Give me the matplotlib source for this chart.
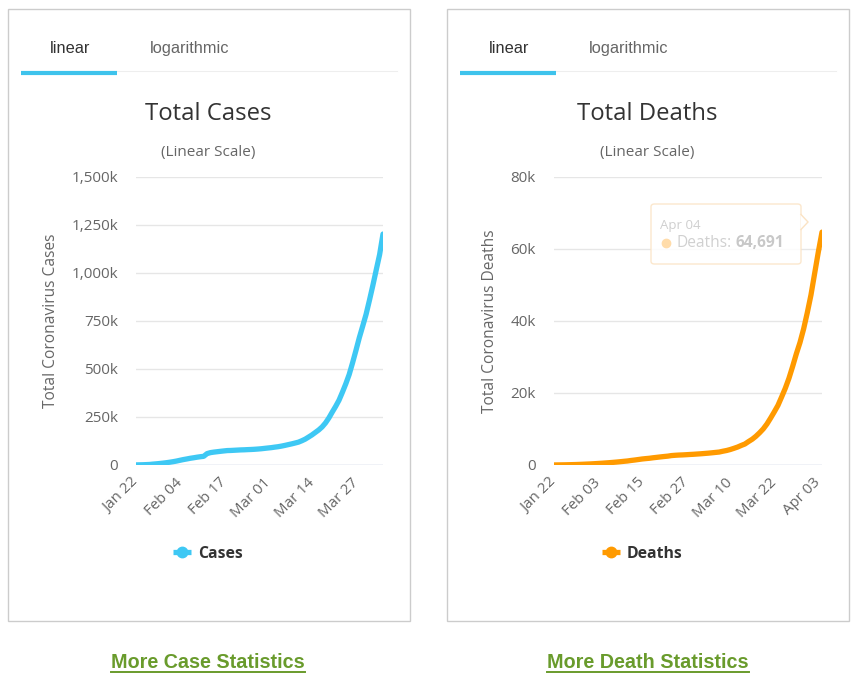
import numpy as np
import matplotlib
matplotlib.use('Agg')
import matplotlib.pyplot as plt
import matplotlib.dates as mdates
from matplotlib.patches import Rectangle, FancyBboxPatch, Polygon
from matplotlib.lines import Line2D

# daily totals, Jan 22 .. Apr 04
dates = np.arange(np.datetime64('2020-01-22'), np.datetime64('2020-04-05'))

total_cases = [
    580, 845, 1317, 2015, 2800, 4581, 6058, 7813, 9823, 11950,
    14553, 17391, 20630, 24545, 28266, 31439, 34876, 37552, 40553, 43099,
    45134, 59287, 64438, 67100, 69197, 71329, 73332, 75184, 75700, 76677,
    77673, 78651, 79205, 80087, 80828, 81820, 83112, 84615, 86604,
    88585, 90443, 93016, 95314, 98425, 102050, 106099, 109991, 114381, 118948,
    126214, 134576, 145483, 156653, 169593, 182490, 198238, 218822, 244933, 275597,
    305036, 337459, 378830, 422574, 471035, 531865, 596366, 663127, 723390, 784794,
    858361, 935197, 1016128, 1095917, 1203000,
]
total_deaths = [
    17, 25, 41, 56, 80, 106, 132, 170, 213, 259,
    304, 362, 426, 492, 565, 638, 724, 813, 910, 1018,
    1115, 1261, 1383, 1526, 1669, 1775, 1873, 2009, 2126, 2247,
    2360, 2460, 2618, 2699, 2763, 2800, 2858, 2923, 2977,
    3050, 3117, 3202, 3285, 3387, 3494, 3599, 3827, 4025, 4296,
    4628, 4981, 5428, 5833, 6520, 7162, 7979, 8951, 10030, 11388,
    13031, 14755, 16558, 18897, 21308, 24090, 27370, 30850, 34013, 37820,
    42338, 47261, 53234, 59172, 64691,
]
cases_yticks = [0, 250000, 500000, 750000, 1000000, 1250000, 1500000]
cases_ylabels = ['0', '250k', '500k', '750k', '1,000k', '1,250k', '1,500k']
deaths_yticks = [0, 20000, 40000, 60000, 80000]
deaths_ylabels = ['0', '20k', '40k', '60k', '80k']

W, H = 860, 698
FONT = ['Open Sans', 'DejaVu Sans']
fig = plt.figure(figsize=(W / 100, H / 100), dpi=100)


def fx(x):
    return x / W


def fy(y):
    return 1 - y / H


def panel(x0, series, color, name, title, ylabel, yticks, ylabels, step):
    # outer box
    fig.patches.append(Rectangle((fx(x0), fy(621)), fx(402), 612 / H, transform=fig.transFigure,
                                 fill=False, edgecolor='#cccccc', lw=1))
    # tabs
    fig.text(fx(x0 + 62), fy(48.5), 'linear', family=['Liberation Sans'], fontsize=11.8,
             color='#333333', ha='center', va='center')
    fig.text(fx(x0 + 182), fy(48.5), 'logarithmic', family=['Liberation Sans'], fontsize=11.8,
             color='#666666', ha='center', va='center')
    fig.lines.append(Line2D([fx(x0 + 109), fx(x0 + 389)], [fy(70.5), fy(70.5)],
                            transform=fig.transFigure, color='#eeeeee', lw=0.8))
    fig.lines.append(Line2D([fx(x0 + 13), fx(x0 + 109)], [fy(72.5), fy(72.5)],
                            transform=fig.transFigure, color='#3ec3ec', lw=3, solid_capstyle='butt'))
    # titles
    fig.text(fx(x0 + 200), fy(114), title, family=FONT, fontsize=17.2, color='#333333',
             ha='center', va='center')
    fig.text(fx(x0 + 200), fy(152.5), '(Linear Scale)', family=FONT, fontsize=11, color='#666666',
             ha='center', va='center')

    ax_l = x0 + 128 if step == 13 else x0 + 107
    ax_r = x0 + 375
    ax = fig.add_axes([fx(ax_l), fy(465), fx(ax_r - ax_l), (465 - 177) / H])
    ax.plot(dates, series, color=color, lw=3.8, solid_capstyle='round', zorder=3)
    ax.set_xlim(dates[0], dates[-1])
    ax.set_ylim(0, yticks[-1])
    ax.set_yticks(yticks)
    ax.set_yticklabels(ylabels)
    ax.set_xticks(dates[::step])
    ax.xaxis.set_major_formatter(mdates.DateFormatter('%b %d'))
    for s in ax.spines.values():
        s.set_visible(False)
    ax.axhline(0, color='#ccd6eb', lw=1, zorder=2)
    ax.grid(axis='y', color='#e6e6e6', lw=1)
    ax.set_axisbelow(True)
    ax.tick_params(axis='y', length=0, pad=13, labelsize=11, labelcolor='#666666')
    ax.tick_params(axis='x', length=0, pad=11, labelsize=10.8, labelcolor='#666666')
    for lab in ax.get_yticklabels() + ax.get_xticklabels():
        lab.set_family(FONT)
    for lab in ax.get_xticklabels():
        lab.set_rotation(45)
        lab.set_ha('right')
        lab.set_va('center')
        lab.set_rotation_mode('anchor')
    ax.set_ylabel(ylabel, family=FONT, fontsize=11.2, color='#666666', labelpad=9)

    # legend
    cx = x0 + 174 if step == 13 else x0 + 164
    fig.lines.append(Line2D([fx(cx - 9), fx(cx + 9)], [fy(552), fy(552)], transform=fig.transFigure,
                            color=color, lw=3.8, solid_capstyle='butt'))
    fig.lines.append(Line2D([fx(cx)], [fy(552)], transform=fig.transFigure, marker='o', ms=7.5,
                            color=color, lw=0))
    fig.text(fx(cx + 16), fy(553.5), name, family=FONT, fontsize=11.3, fontweight='bold',
             color='#333333', ha='left', va='center')
    return ax


panel(8, total_cases, '#3ec8f4', 'Cases', 'Total Cases', 'Total Coronavirus Cases',
      cases_yticks, cases_ylabels, 13)
ax_d = panel(447, total_deaths, '#ff9a00', 'Deaths', 'Total Deaths', 'Total Coronavirus Deaths',
             deaths_yticks, deaths_ylabels, 12)

# faded tooltip on the last death point
tip = FancyBboxPatch((fx(651), fy(264)), fx(150), 60 / H, boxstyle='round,pad=0,rounding_size=0.004',
                     transform=fig.transFigure, facecolor='white', edgecolor='#fbe3c4', lw=1,
                     alpha=0.85, zorder=5)
fig.patches.append(tip)
fig.patches.append(Polygon([[fx(800.5), fy(214)], [fx(808), fy(222)], [fx(800.5), fy(230)]],
                           closed=False, transform=fig.transFigure, facecolor='white',
                           edgecolor='#fbe3c4', lw=1, zorder=6))
fig.text(fx(660), fy(225), 'Apr 04', family=FONT, fontsize=9.5, color='#cfcfcf', va='center', zorder=7)
fig.lines.append(Line2D([fx(666)], [fy(243)], transform=fig.transFigure, marker='o', ms=6,
                        color='#ffdcaa', lw=0, zorder=7))
fig.text(fx(676), fy(243), 'Deaths:', family=FONT, fontsize=11.2, color='#d0d0d0',
         va='center', zorder=7)
fig.text(fx(735), fy(243), '64,691', family=FONT, fontsize=11.2, fontweight='bold',
         color='#c8c8c8', va='center', zorder=7)

# footer links
renderer = fig.canvas.get_renderer()
for cx, txt in [(208, 'More Case Statistics'), (648, 'More Death Statistics')]:
    t = fig.text(fx(cx), fy(662), txt, family=['Liberation Sans'],
                 fontsize=14.2, fontweight='bold', color='#699b2c', ha='center', va='center')
    bb = t.get_window_extent(renderer)
    fig.lines.append(Line2D([bb.x0 / W, bb.x1 / W], [fy(671.5), fy(671.5)], transform=fig.transFigure,
                            color='#699b2c', lw=1.4))

fig.savefig('out.png', dpi=100)
